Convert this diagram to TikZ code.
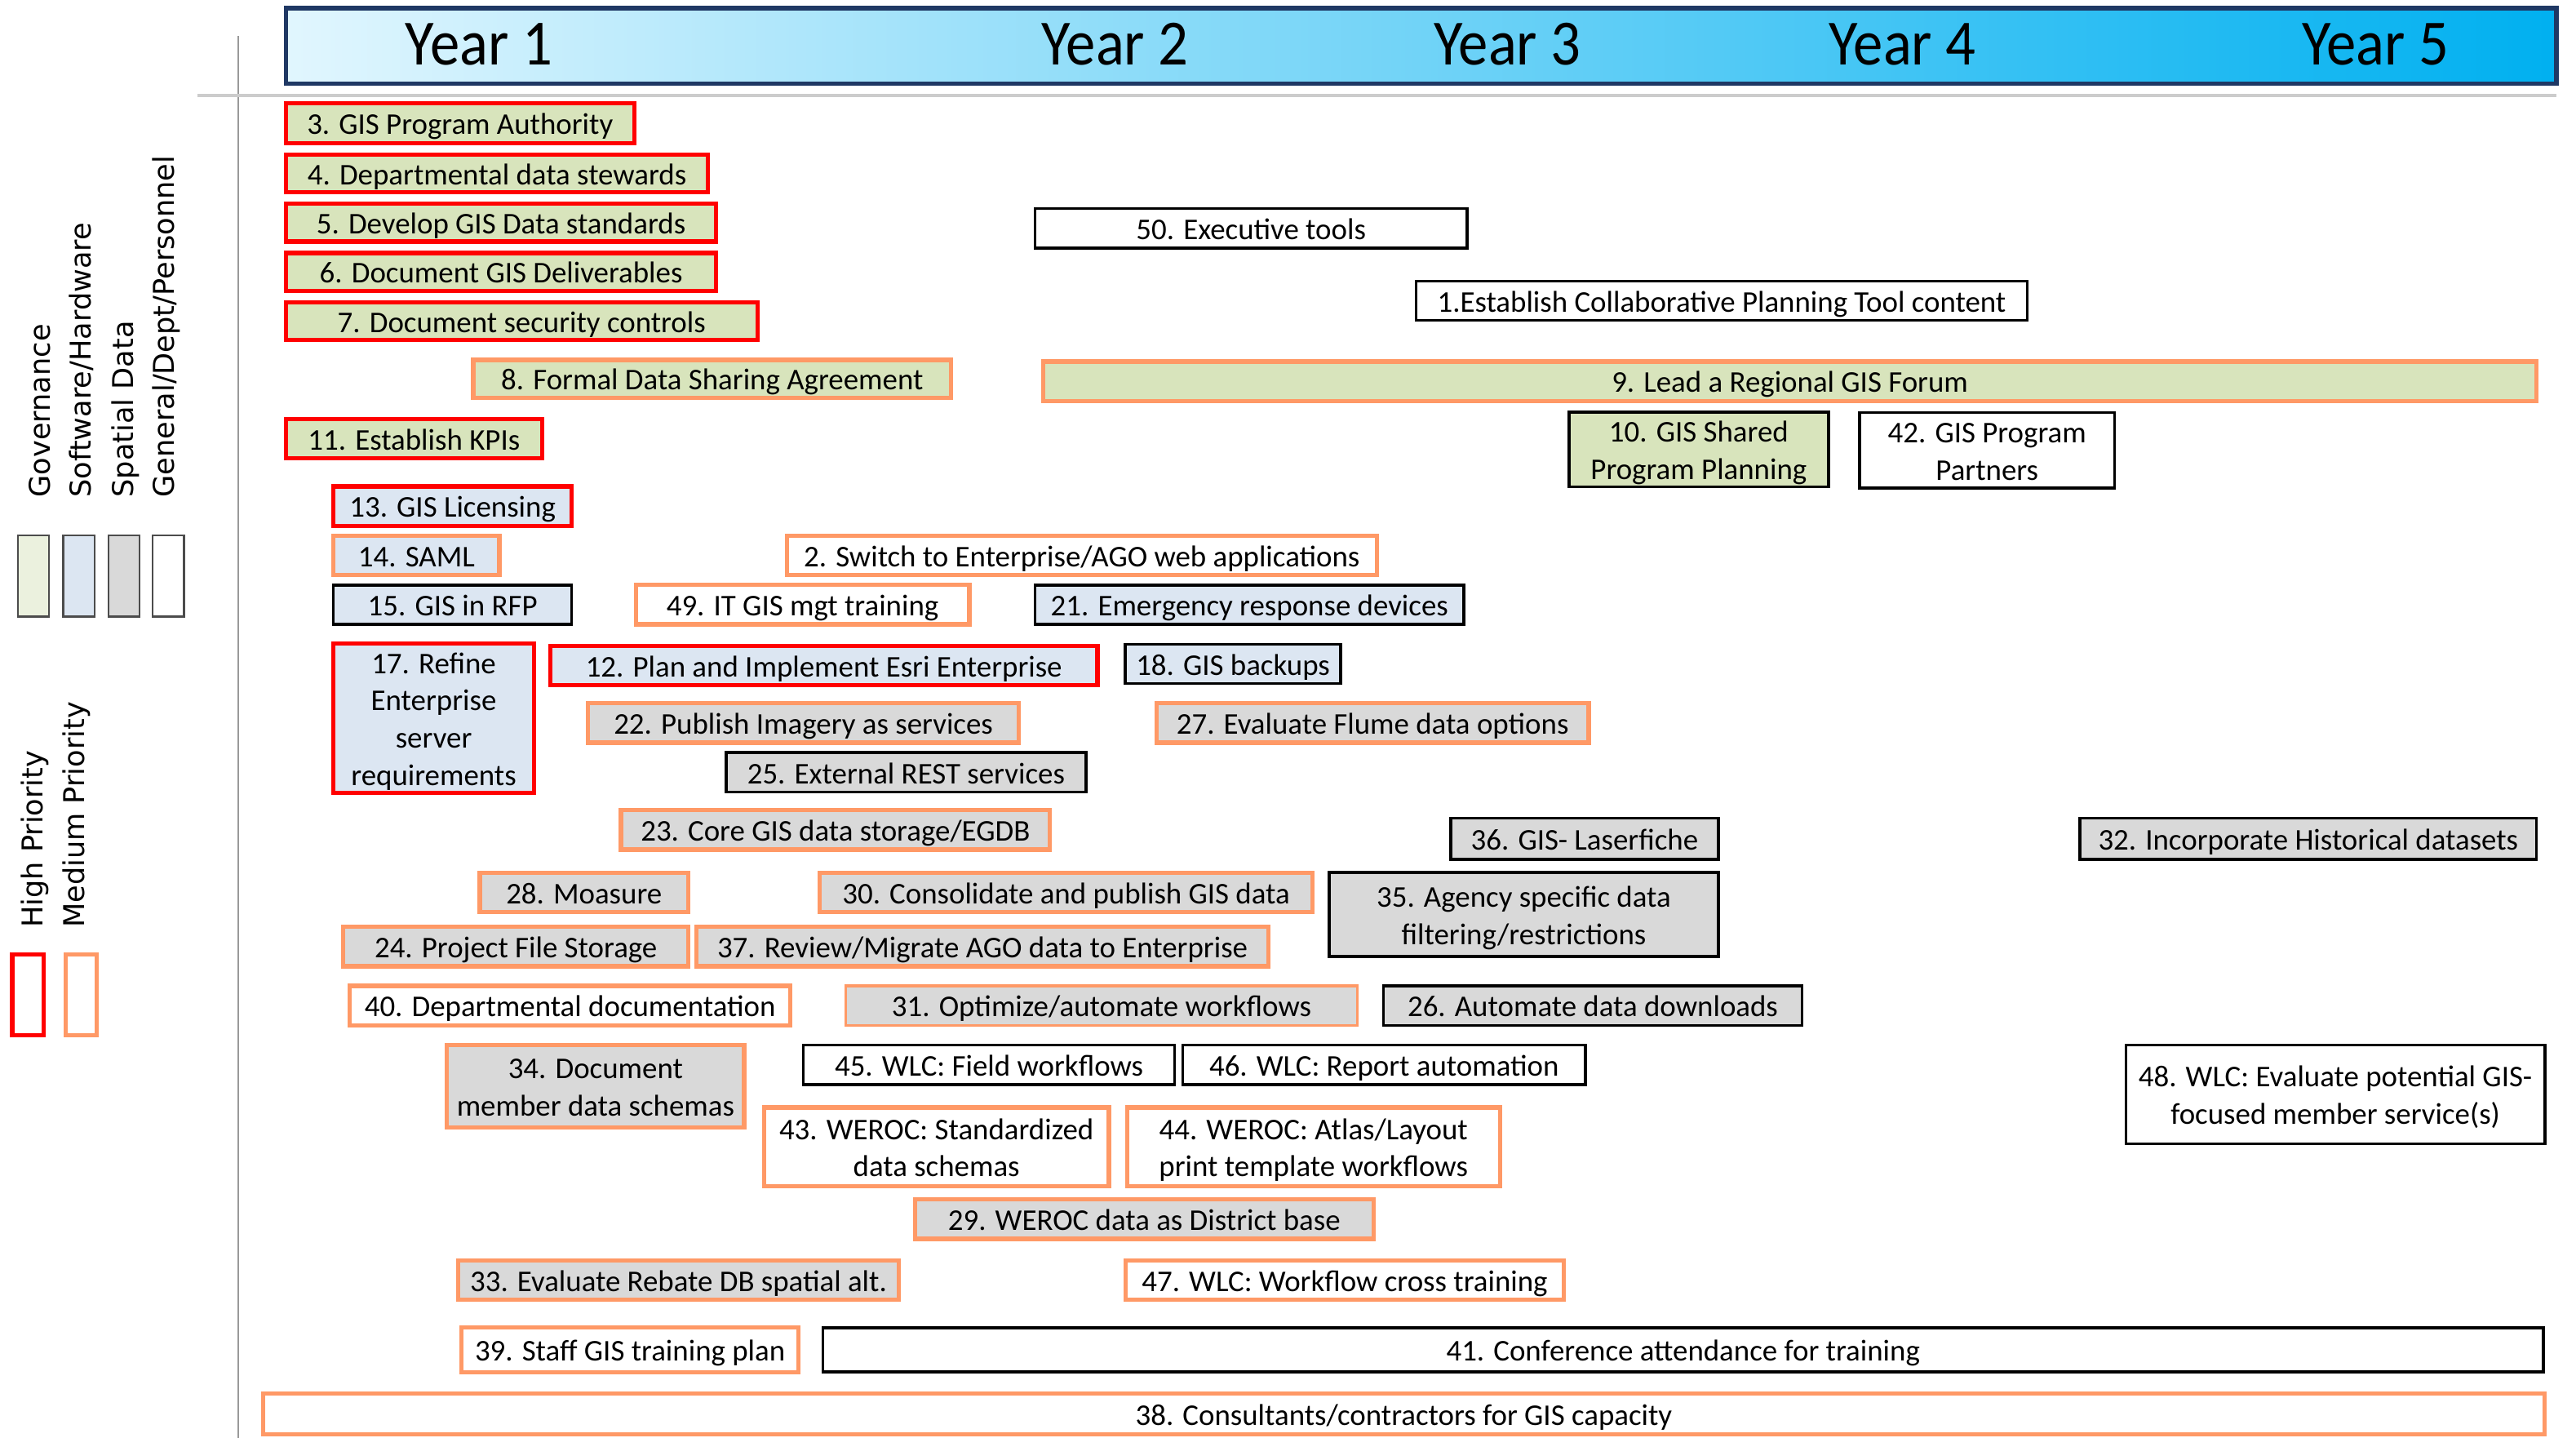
\documentclass[tikz,border=0pt]{standalone}
\usepackage{fontspec}
\setmainfont{Carlito}
\newfontfamily\dvs{DejaVu Sans}
\definecolor{grn}{RGB}{216,228,188}
\definecolor{lgrn}{RGB}{235,241,222}
\definecolor{blu}{RGB}{220,230,242}
\definecolor{gry}{RGB}{217,217,217}
\definecolor{hired}{RGB}{255,0,0}
\definecolor{medor}{RGB}{255,153,102}
\definecolor{navy}{RGB}{31,56,100}
\definecolor{hdrL}{RGB}{225,246,254}
\definecolor{hdrM}{RGB}{130,218,252}
\definecolor{hdrR}{RGB}{0,176,240}
\newcommand\taskbox[7]{\node[#2, minimum width={(#5-#3)*0.020134cm}, minimum height={(#6-#4)*0.020134cm}] (#1) at ({(#3+#5)/2},{(#4+#6)/2}) {\raisebox{-1.3pt}[\height][\depth]{\begin{tabular}{@{}c@{}}#7\end{tabular}}};}
\begin{document}
\begin{tikzpicture}[x=0.020134cm, y=-0.020134cm,
  box/.style={rectangle, inner sep=0pt, font=\fontsize{10.5}{13}\selectfont},
  hi/.style={box, draw=hired, line width=1.5pt},
  med/.style={box, draw=medor, line width=1.5pt},
  medthin/.style={box, draw=medor, line width=0.9pt},
  blk/.style={box, draw=black, line width=1pt},
  gfill/.style={fill=grn}, bfill/.style={fill=blu}, yfill/.style={fill=gry}, wfill/.style={fill=white},
  yearlbl/.style={anchor=base, font=\fontsize{22.5}{26}\selectfont, inner sep=0pt},
  sidelbl/.style={rotate=90, anchor=base west, inner sep=0pt, font=\dvs\fontsize{10}{12}\selectfont},
  swatch/.style={draw=black!70, line width=0.6pt, minimum width=19*0.020134cm, minimum height=49.5*0.020134cm, inner sep=0pt},
  prio/.style={line width=1.5pt, minimum width=19*0.020134cm, minimum height=49*0.020134cm, inner sep=0pt}]
\useasboundingbox (0,0) rectangle (1568,875);
% guide lines
\draw[black!40, line width=0.7pt] (145,22) -- (145,875);
\draw[black!20, line width=1pt] (120,58) -- (1556,58);
% header
\node[draw=navy, line width=1.5pt, left color=hdrL, middle color=hdrM, right color=hdrR,
  minimum width={(1556-174)*0.020134cm}, minimum height={(51-5)*0.020134cm}, inner sep=0pt] (hdr) at (865,28) {};
\node[yearlbl] (y1) at (291.5,39.5) {\scalebox{0.92}[1]{Year 1}};
\node[yearlbl] (y2) at (678.7,39.5) {\scalebox{0.92}[1]{Year 2}};
\node[yearlbl] (y3) at (917.6,39.5) {\scalebox{0.92}[1]{Year 3}};
\node[yearlbl] (y4) at (1158,39.5) {\scalebox{0.92}[1]{Year 4}};
\node[yearlbl] (y5) at (1446,39.5) {\scalebox{0.92}[1]{Year 5}};
% legend
\node[sidelbl] (lg1) at (30.5,303) {Governance};
\node[sidelbl] (lg2) at (55.5,303) {Software/Hardware};
\node[sidelbl] (lg3) at (81,303) {Spatial Data};
\node[sidelbl] (lg4) at (106,303) {General/Dept/Personnel};
\node[swatch, fill=lgrn] (sw1) at (20.5,350.5) {};
\node[swatch, fill=blu] (sw2) at (48,350.5) {};
\node[swatch, fill=gry] (sw3) at (75.5,350.5) {};
\node[swatch, fill=white] (sw4) at (102.5,350.5) {};
\node[sidelbl] (lp1) at (26,565) {High Priority};
\node[sidelbl] (lp2) at (51.5,565) {Medium Priority};
\node[prio, draw=hired] (pr1) at (17,605.5) {};
\node[prio, draw=medor] (pr2) at (49.5,605.5) {};
% tasks
\taskbox{t3}{hi,gfill}{174}{63}{386}{87}{3. GIS Program Authority}
\taskbox{t4}{hi,gfill}{174}{94}{431}{117}{4. Departmental data stewards}
\taskbox{t5}{hi,gfill}{174}{124}{436}{147}{5. Develop GIS Data standards}
\taskbox{t6}{hi,gfill}{174}{154}{436}{177}{6. Document GIS Deliverables}
\taskbox{t7}{hi,gfill}{174}{184}{461}{207}{7. Document security controls}
\taskbox{t8}{med,gfill}{288}{219}{579}{242}{8. Formal Data Sharing Agreement}
\taskbox{t50}{blk,wfill}{630}{127}{893}{151}{50. Executive tools}
\taskbox{t1}{blk,wfill}{862}{171}{1234}{195}{1.Establish Collaborative Planning Tool content}
\taskbox{t9}{med,gfill}{635}{220}{1544}{244}{9. Lead a Regional GIS Forum}
\taskbox{t10}{blk,gfill}{955}{251}{1113}{296}{10. GIS Shared\\Program Planning}
\taskbox{t42}{blk,wfill}{1132}{251}{1287}{297}{42. GIS Program\\Partners}
\taskbox{t11}{hi,gfill}{174}{255}{330}{279}{11. Establish KPIs}
\taskbox{t13}{hi,bfill}{203}{296}{348}{320}{13. GIS Licensing}
\taskbox{t14}{med,bfill}{203}{326}{304}{350}{14. SAML}
\taskbox{t2}{med,wfill}{479}{326}{838}{350}{2. Switch to Enterprise/AGO web applications}
\taskbox{t15}{blk,bfill}{203}{356}{348}{380}{15. GIS in RFP}
\taskbox{t49}{med,wfill}{387}{356}{590}{380}{49. IT GIS mgt training}
\taskbox{t21}{blk,bfill}{630}{356}{891}{380}{21. Emergency response devices}
\taskbox{t17}{hi,bfill}{203}{393}{325}{481}{17. Refine\\Enterprise\\server\\requirements}
\taskbox{t12}{hi,bfill}{335}{393}{668}{417}{12. Plan and Implement Esri Enterprise}
\taskbox{t18}{blk,bfill}{685}{392}{816}{416}{18. GIS backups}
\taskbox{t22}{med,yfill}{358}{428}{620}{452}{22. Publish Imagery as services}
\taskbox{t27}{med,yfill}{704}{428}{967}{452}{27. Evaluate Flume data options}
\taskbox{t25}{blk,yfill}{442}{458}{661}{482}{25. External REST services}
\taskbox{t23}{med,yfill}{378}{493}{639}{517}{23. Core GIS data storage/EGDB}
\taskbox{t36}{blk,yfill}{883}{498}{1046}{523}{36. GIS- Laserfiche}
\taskbox{t32}{blk,yfill}{1266}{498}{1544}{523}{32. Incorporate Historical datasets}
\taskbox{t28}{med,yfill}{292}{531}{419}{555}{28. Moasure}
\taskbox{t30}{med,yfill}{499}{531}{799}{555}{30. Consolidate and publish GIS data}
\taskbox{t35}{blk,yfill}{809}{531}{1046}{582}{35. Agency specific data\\filtering/restrictions}
\taskbox{t24}{med,yfill}{209}{564}{419}{588}{24. Project File Storage}
\taskbox{t37}{med,yfill}{424}{564}{772}{588}{37. Review/Migrate AGO data to Enterprise}
\taskbox{t40}{med,wfill}{213}{600}{481}{624}{40. Departmental documentation}
\taskbox{t31}{medthin,yfill}{515}{600}{826}{624}{31. Optimize/automate workflows}
\taskbox{t26}{blk,yfill}{842}{600}{1097}{624}{26. Automate data downloads}
\taskbox{t34}{med,yfill}{272}{636}{453}{686}{34. Document\\member data schemas}
\taskbox{t45}{blk,wfill}{489}{636}{715}{660}{45. WLC: Field workflows}
\taskbox{t46}{blk,wfill}{720}{636}{965}{660}{46. WLC: Report automation}
\taskbox{t48}{blk,wfill}{1294}{636}{1549}{696}{48. WLC: Evaluate potential GIS-\\focused member service(s)}
\taskbox{t43}{med,wfill}{465}{674}{675}{722}{43. WEROC: Standardized\\data schemas}
\taskbox{t44}{med,wfill}{686}{674}{913}{722}{44. WEROC: Atlas/Layout\\print template workflows}
\taskbox{t29}{med,yfill}{557}{730}{836}{754}{29. WEROC data as District base}
\taskbox{t33}{med,yfill}{279}{767}{547}{791}{33. Evaluate Rebate DB spatial alt.}
\taskbox{t47}{med,wfill}{685}{767}{952}{791}{47. WLC: Workflow cross training}
\taskbox{t39}{med,wfill}{281}{808}{486}{835}{39. Staff GIS training plan}
\taskbox{t41}{blk,wfill}{501}{808}{1548}{835}{41. Conference attendance for training}
\taskbox{t38}{med,wfill}{160}{848}{1549}{873}{38. Consultants/contractors for GIS capacity}
\end{tikzpicture}
\end{document}
